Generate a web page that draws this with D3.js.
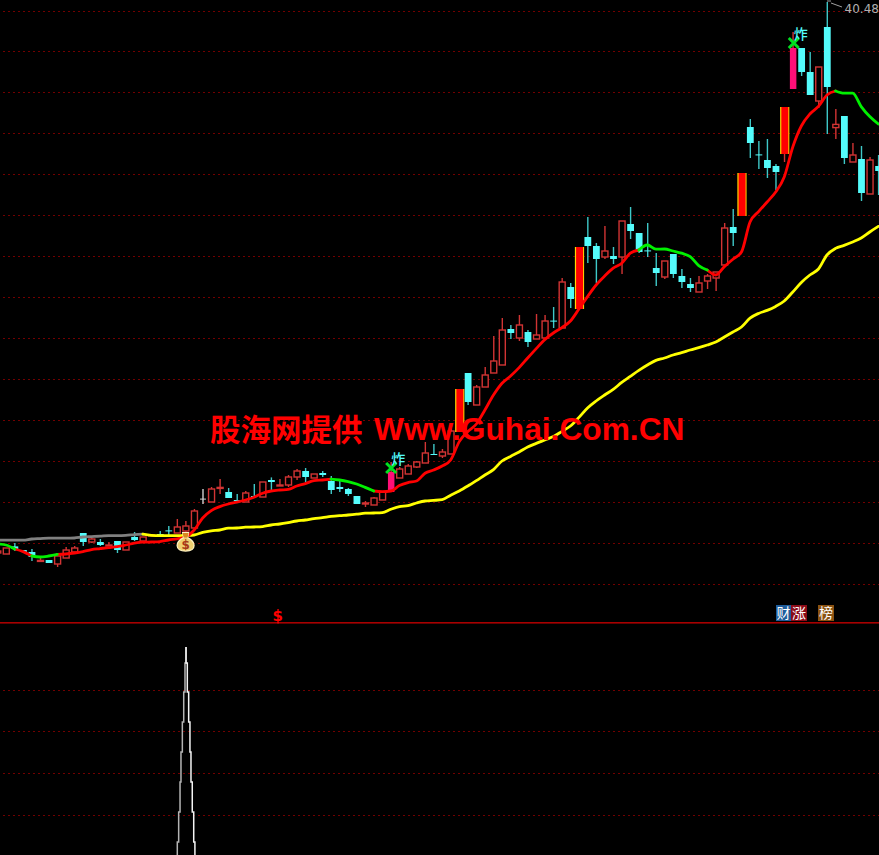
<!DOCTYPE html>
<html>
<head>
<meta charset="utf-8">
<style>html,body{margin:0;padding:0;background:#000;overflow:hidden}svg{display:block}</style>
<script src="https://cdnjs.cloudflare.com/ajax/libs/d3/7.8.5/d3.min.js"></script>
</head>
<body>
<script>
const opens = [
12.93,12.88,13.26,13.08,12.98,12.53,12.58,12.38,12.68,12.98,
13.93,13.48,13.48,13.31,13.53,13.08,13.73,13.53,13.78,13.88,
14.06,13.93,14.03,14.18,15.65,15.48,16.18,15.98,15.58,15.48,
15.78,15.73,16.58,16.31,16.33,16.73,17.03,16.68,16.93,16.53,
16.23,16.13,15.78,15.40,15.33,15.58,15.98,16.68,16.88,17.23,
17.43,17.88,17.78,17.88,18.98,21.93,20.33,21.23,21.93,22.33,
24.13,23.68,23.98,23.63,23.68,24.55,24.18,26.23,25.13,28.73,
28.28,27.73,27.78,27.73,29.38,28.93,28.06,27.18,26.73,27.88,
26.78,26.38,25.98,26.53,26.68,27.33,29.23,29.78,34.23,32.86,
32.58,32.28,32.88,36.13,38.18,36.98,35.53,39.23,34.20,34.78,
32.48,32.63,30.88,32.28];
const closes = [
13.03,13.18,13.13,12.98,12.73,12.56,12.43,12.78,13.08,13.18,
13.48,13.63,13.33,13.33,13.08,13.48,13.58,13.73,13.83,13.86,
14.03,14.23,14.28,15.03,15.63,16.13,16.21,15.68,15.56,15.93,
15.76,16.48,16.48,16.33,16.73,17.03,16.73,16.88,16.83,16.08,
16.13,15.88,15.38,15.43,15.68,15.98,16.98,17.13,17.28,17.48,
17.93,17.86,17.98,19.03,21.13,20.48,21.23,21.83,22.53,24.08,
23.93,24.33,23.48,23.83,24.53,24.53,26.48,25.63,28.23,28.28,
27.63,28.03,27.63,29.53,29.03,27.98,28.03,26.93,27.53,26.88,
26.48,26.18,26.43,26.78,26.98,29.18,28.93,31.93,33.43,32.83,
32.18,31.98,35.23,38.18,36.98,35.83,37.23,36.23,34.36,32.68,
32.83,30.93,32.58,32.03];
const highs = [
13.03,13.18,13.43,13.08,13.13,12.68,12.58,12.78,13.23,13.28,
13.93,13.68,13.63,13.48,13.53,13.48,13.98,13.73,13.88,14.03,
14.28,14.63,14.53,15.13,16.13,16.23,16.63,16.18,15.88,16.03,
16.38,16.48,16.71,16.63,16.83,17.13,17.18,16.88,17.03,16.78,
16.63,16.18,15.78,15.53,15.73,16.03,17.48,17.23,17.38,17.53,
18.48,18.38,18.13,19.13,21.13,21.93,21.33,22.23,23.78,24.68,
24.33,24.83,24.08,24.88,24.83,25.23,26.68,26.43,28.23,29.73,
28.43,29.28,28.23,29.53,30.23,28.93,29.43,27.93,27.53,27.88,
27.13,26.68,26.78,26.88,26.98,29.43,30.13,31.93,34.63,33.53,
33.63,32.38,35.23,38.98,38.18,37.98,37.23,40.48,35.13,34.78,
33.43,33.28,32.73,32.83];
const lows = [
12.93,12.88,13.03,12.98,12.53,12.53,12.43,12.23,12.68,12.98,
13.28,13.43,13.28,13.31,12.93,13.08,13.53,13.53,13.78,13.86,
13.83,13.93,13.88,14.18,15.38,15.48,15.88,15.68,15.56,15.48,
15.76,15.73,16.08,16.31,16.23,16.58,16.48,16.68,16.73,15.88,
15.98,15.78,15.38,15.23,15.33,15.58,15.98,16.68,16.88,17.18,
17.43,17.86,17.68,17.88,18.98,20.33,20.33,21.23,21.93,22.33,
23.63,23.53,23.23,23.63,23.68,24.18,24.18,25.18,25.13,27.43,
26.43,27.63,27.38,26.88,28.63,27.93,27.73,26.28,26.63,26.68,
26.18,25.98,25.98,26.13,26.03,27.33,28.28,29.78,32.68,32.13,
31.68,31.08,32.48,36.13,36.78,35.83,35.18,33.88,33.63,32.38,
32.48,30.53,30.88,30.83];
const shortMA = [
13.38,13.33,13.13,13.00,12.78,12.73,12.78,12.86,12.88,12.93,
13.00,13.10,13.15,13.20,13.25,13.33,13.42,13.47,13.48,13.50,
13.58,13.64,13.73,14.08,14.68,15.05,15.25,15.38,15.47,15.58,
15.72,15.92,16.03,16.08,16.11,16.28,16.40,16.55,16.58,16.62,
16.58,16.50,16.38,16.21,16.03,16.00,16.03,16.30,16.45,16.53,
16.92,17.08,17.28,17.58,18.50,19.00,19.38,20.08,20.83,21.42,
21.78,22.20,22.68,23.15,23.60,23.93,24.20,24.53,25.13,25.75,
26.33,26.78,27.17,27.42,27.92,28.08,28.33,28.12,28.13,28.03,
27.92,27.75,27.30,27.08,26.83,27.25,27.62,27.98,29.48,30.00,
30.48,30.98,31.73,33.23,34.28,34.88,35.26,35.83,36.03,35.92,
35.92,35.25,34.75,34.38];
const longMA = [
13.57,13.57,13.57,13.57,13.63,13.65,13.67,13.67,13.67,13.68,
13.73,13.75,13.77,13.80,13.80,13.81,13.85,13.87,13.81,13.80,
13.80,13.80,13.81,13.83,13.96,14.04,14.08,14.17,14.18,14.22,
14.23,14.25,14.33,14.38,14.45,14.53,14.58,14.65,14.70,14.76,
14.80,14.83,14.87,14.92,14.93,14.95,15.12,15.25,15.30,15.43,
15.53,15.56,15.60,15.82,16.03,16.28,16.55,16.83,17.10,17.53,
17.76,17.98,18.23,18.41,18.58,18.75,19.01,19.28,19.71,20.18,
20.53,20.83,21.11,21.46,21.76,22.06,22.33,22.56,22.68,22.83,
22.95,23.08,23.20,23.33,23.48,23.73,23.98,24.23,24.67,24.91,
25.06,25.26,25.53,25.98,26.46,26.83,27.13,27.83,28.16,28.31,
28.48,28.68,28.98,29.26];
const limitUpBars = [54,68,87,92];
const pinkBars = [46,93];
const whiteBars = [24];
const greenRuns = [[0,2],[4,7],[39,44],[75,83],[98,103]];
const grayEnd = 17;
const priceGrid = [40.03,38.0,35.95,33.9,31.85,29.83,27.78,25.73,23.68,21.63,19.58,17.53,15.48,13.43,11.38];
const lowerGrid = [79.3,59.4,39.2,19.2];
const spikeLevels = [100,92.3,78.4,64,49.5,35.1,20.7,6.25,0];
const spikeLeft  = [22.05,21.93,21.78,21.62,21.46,21.35,21.19,21.03];
const spikeRight = [22.05,22.2,22.36,22.51,22.63,22.78,22.95,23.09];
const topLabel = "40.48";
const watermarkCN = "股海网提供";
const watermarkEN = "Www.Guhai.Com.CN";

const W = 879, H = 855;
const svg = d3.select("body").append("svg").attr("width",W).attr("height",H).style("background","#000");
const x = d3.scaleLinear().domain([0,103]).range([-2.55,878.3]);
const y = d3.scaleLinear().domain([9.48,40.48]).range([622,2]);
const yLow = d3.scaleLinear().domain([0,100]).range([855,647]);
const GRID = "#720000", CYAN = "#54fcfc", CYAN_W = "#3fc8c8", RED_O = "#d23434";

// grid
const gridG = svg.append("g").attr("shape-rendering","crispEdges");
const gl = (sel,sc)=>sel.enter().append("line").attr("x1",3).attr("x2",W)
  .attr("y1",d=>sc(d)).attr("y2",d=>sc(d)).attr("stroke",GRID).attr("stroke-width",1).attr("stroke-dasharray","2 3");
gl(gridG.selectAll(".a").data(priceGrid),y);
gl(gridG.selectAll(".b").data(lowerGrid),yLow);
svg.append("rect").attr("x",0).attr("y",y(9.48)).attr("width",W).attr("height",1.6).attr("fill","#a80000");

// candles
const candles = d3.range(opens.length).map(i=>({i,o:opens[i],c:closes[i],h:highs[i],l:lows[i]}));
const kind = d=> limitUpBars.includes(d.i)?"limit": pinkBars.includes(d.i)?"pink": whiteBars.includes(d.i)?"white": d.c>=d.o?"up":"down";
const wickCol = {limit:RED_O,pink:RED_O,white:"#d0d0d0",up:RED_O,down:CYAN_W};
const cg = svg.append("g");
cg.selectAll("line.w").data(candles).enter().append("line").attr("class","w")
  .attr("x1",d=>x(d.i)+0.3).attr("x2",d=>x(d.i)+0.3).attr("y1",d=>y(d.h)).attr("y2",d=>y(d.l))
  .attr("stroke",d=>wickCol[kind(d)]).attr("stroke-width",1.4);
cg.selectAll("rect.b").data(candles).enter().append("rect").attr("class","b")
  .each(function(d){
    const k=kind(d), top=y(Math.max(d.o,d.c)), bot=y(Math.min(d.o,d.c)), cx=x(d.i)+0.3;
    const s=d3.select(this).attr("y",top).attr("height",Math.max(bot-top,1));
    if(k==="limit") s.attr("x",cx-4.4).attr("width",9.2).attr("fill","#ffd800");
    else if(k==="pink") s.attr("x",cx-3.2).attr("width",6.5).attr("fill","#ff0f78");
    else if(k==="up") s.attr("x",cx-3).attr("width",6).attr("fill","#000").attr("stroke",RED_O).attr("stroke-width",1.4);
    else if(k==="white") s.attr("x",cx-3).attr("width",6).attr("fill","#d0d0d0");
    else s.attr("x",cx-3.4).attr("width",6.8).attr("fill",CYAN);
  });
cg.selectAll("rect.core").data(candles.filter(d=>kind(d)==="limit")).enter().append("rect").attr("class","core")
  .attr("x",d=>x(d.i)-2.9).attr("width",7).attr("y",d=>y(d.c)).attr("height",d=>y(d.o)-y(d.c)).attr("fill","#ff0000");

// moving averages
const ln = arr=>d3.line().x(i=>x(i)).y(i=>y(arr[i])).curve(d3.curveMonotoneX);
function strokeRun(arr,from,to,col,w){
  svg.append("path").attr("d",ln(arr)(d3.range(from,to+1))).attr("fill","none").attr("stroke",col)
    .attr("stroke-width",w).attr("stroke-linejoin","round").attr("stroke-linecap","round");
}
strokeRun(longMA,0,grayEnd,"#808080",2.8);
strokeRun(longMA,grayEnd,longMA.length-1,"#ffff00",2.8);
let prev=0;
greenRuns.forEach(([a,b])=>{ if(a>prev) strokeRun(shortMA,prev,a,"#ff0000",2.8); prev=b; });
if(prev<shortMA.length-1) strokeRun(shortMA,prev,shortMA.length-1,"#ff0000",2.8);
greenRuns.forEach(([a,b])=>strokeRun(shortMA,a,b,"#00f000",2.8));

// top flag + label
const hiBar = 97;
svg.append("path").attr("d",`M${x(hiBar)},${y(40.48)-1}h4M${x(hiBar)+4},${y(40.48)+1}L${x(hiBar)+15},${y(40.48)+5}`)
  .attr("fill","none").attr("stroke","#a0a0a0").attr("stroke-width",1);
svg.append("text").attr("x",x(hiBar)+17.6).attr("y",y(40.48)+10.5).text(topLabel)
  .attr("font-family","DejaVu Sans").attr("font-size",12).attr("fill","#b0b0b0");

// blast markers
pinkBars.forEach((b,k)=>{
  const cx=x(b)+(k?1:0.3), cy=y(closes[b])-(k?5:4);
  svg.append("path").attr("d",`M${cx-5},${cy-5}L${cx+5},${cy+5}M${cx+5},${cy-5}L${cx-5},${cy+5}`)
    .attr("stroke","#00e020").attr("stroke-width",3).attr("fill","none");
  svg.append("text").attr("x",cx).attr("y",cy-4).text("炸")
    .attr("font-family","Noto Sans CJK SC").attr("font-weight",500).attr("font-size",14).attr("fill",CYAN);
});

// money bag
const bx=x(22), by=y(13.45);
const bag=svg.append("g").attr("transform",`translate(${bx},${by})`);
bag.append("path").attr("d","M-3,-10L3,-10L2,-5C6,-3 8.5,0 8.5,3C8.5,7 5,8.5 0,8.5C-5,8.5 -8.5,7 -8.5,3C-8.5,0 -6,-3 -2,-5Z")
  .attr("fill","#f0cf70").attr("stroke","#fff2c0").attr("stroke-width",1.2);
bag.append("path").attr("d","M-3,-9.5L3,-9.5L2,-5L-2,-5Z").attr("fill","#d88a20");
bag.append("text").attr("x",0).attr("y",6.5).attr("text-anchor","middle").text("$")
  .attr("font-family","DejaVu Sans").attr("font-weight","bold").attr("font-size",12).attr("fill","#a83818");

// bottom markers
svg.append("text").attr("x",x(33)-2).attr("y",620.5).attr("text-anchor","middle").text("$")
  .attr("font-family","DejaVu Sans").attr("font-weight","bold").attr("font-size",15).attr("fill","#ff0000");
const badges=[["财",776,15,"#1f5c9a"],["涨",791,16,"#8c0c18"],["榜",818,16,"#8a5212"]];
badges.forEach(([t,bx0,w,c])=>{
  svg.append("rect").attr("x",bx0).attr("y",605).attr("width",w).attr("height",16).attr("fill",c);
  svg.append("text").attr("x",bx0+w/2).attr("y",618).attr("text-anchor","middle").text(t)
    .attr("font-family","Noto Sans CJK SC").attr("font-size",14).attr("fill","#fff");
});

// lower panel spike
const bandPts = xs=>xs.flatMap((v,k)=>[[v,spikeLevels[k]],[v,spikeLevels[k+1]]]);
const lnL=d3.line().x(d=>x(d[0])).y(d=>yLow(d[1]));
svg.append("path").attr("d",lnL(bandPts(spikeLeft))).attr("fill","none").attr("stroke","#b4b4b4").attr("stroke-width",1.5);
svg.append("path").attr("d",lnL(bandPts(spikeRight))).attr("fill","none").attr("stroke","#f4f4f4").attr("stroke-width",1.5);

// watermark
svg.append("text").attr("x",210).attr("y",441).text(watermarkCN)
  .attr("font-family","Noto Sans CJK SC").attr("font-weight",700).attr("font-size",30.5).attr("fill","#ff0000");
svg.append("text").attr("x",374).attr("y",440).text(watermarkEN)
  .attr("font-family","Liberation Sans").attr("font-weight",700).attr("font-size",31.7).attr("fill","#ff0000");
</script>
</body>
</html>
